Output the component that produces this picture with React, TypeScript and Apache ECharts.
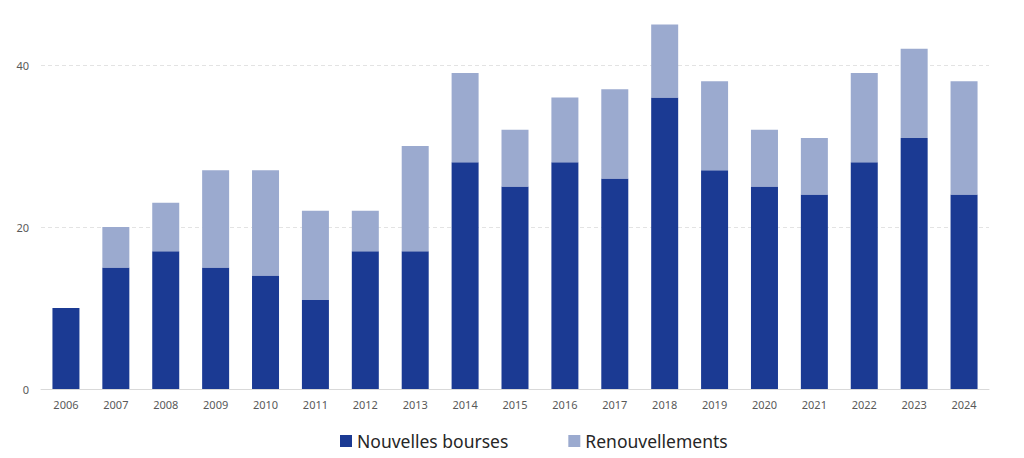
import React, { useEffect, useRef } from 'react';
import * as echarts from 'echarts';

const years = ['2006', '2007', '2008', '2009', '2010', '2011', '2012', '2013', '2014', '2015', '2016', '2017', '2018', '2019', '2020', '2021', '2022', '2023', '2024'];
const nouvellesBourses = [10, 15, 17, 15, 14, 11, 17, 17, 28, 25, 28, 26, 36, 27, 25, 24, 28, 31, 24];
const renouvellements = [0, 5, 6, 12, 13, 11, 5, 13, 11, 7, 8, 11, 9, 11, 7, 7, 11, 11, 14];

const App: React.FC = () => {
  const chartRef = useRef<HTMLDivElement | null>(null);

  useEffect(() => {
    if (!chartRef.current) return;
    const chart = echarts.init(chartRef.current, null, { renderer: 'svg' });
    chart.setOption({
      animation: false,
      textStyle: { fontFamily: 'Noto Sans' },
      grid: { left: 41, right: 35, top: 24.5, bottom: 69 },
      legend: {
        bottom: 3,
        left: 335,
        itemWidth: 12,
        itemHeight: 12,
        itemGap: 60,
        icon: 'rect',
        textStyle: { fontSize: 17.5, color: '#262626', fontFamily: 'Noto Sans' },
        data: ['Nouvelles bourses', 'Renouvellements'],
      },
      xAxis: {
        type: 'category',
        data: years,
        axisLine: { lineStyle: { color: '#d9d9d9' } },
        axisTick: { show: false },
        axisLabel: { color: '#595959', fontSize: 11, margin: 10 },
      },
      yAxis: {
        type: 'value',
        min: 0,
        max: 45,
        interval: 20,
        axisLine: { show: false },
        axisTick: { show: false },
        axisLabel: { color: '#595959', fontSize: 11, margin: 12, showMaxLabel: false },
        splitLine: { showMaxLine: false, lineStyle: { color: '#e3e3e3', type: [4, 3] } },
      },
      series: [
        {
          name: 'Nouvelles bourses',
          type: 'bar',
          stack: 'total',
          barWidth: 27,
          itemStyle: { color: '#1b3a93' },
          data: nouvellesBourses,
        },
        {
          name: 'Renouvellements',
          type: 'bar',
          stack: 'total',
          barWidth: 27,
          itemStyle: { color: '#9baacf' },
          data: renouvellements,
        },
      ],
    });
    return () => {
      chart.dispose();
    };
  }, []);

  return (
    <div
      ref={chartRef}
      style={{ position: 'fixed', left: 0, top: 0, width: '1024px', height: '458px', background: '#fff' }}
    />
  );
};

export default App;
